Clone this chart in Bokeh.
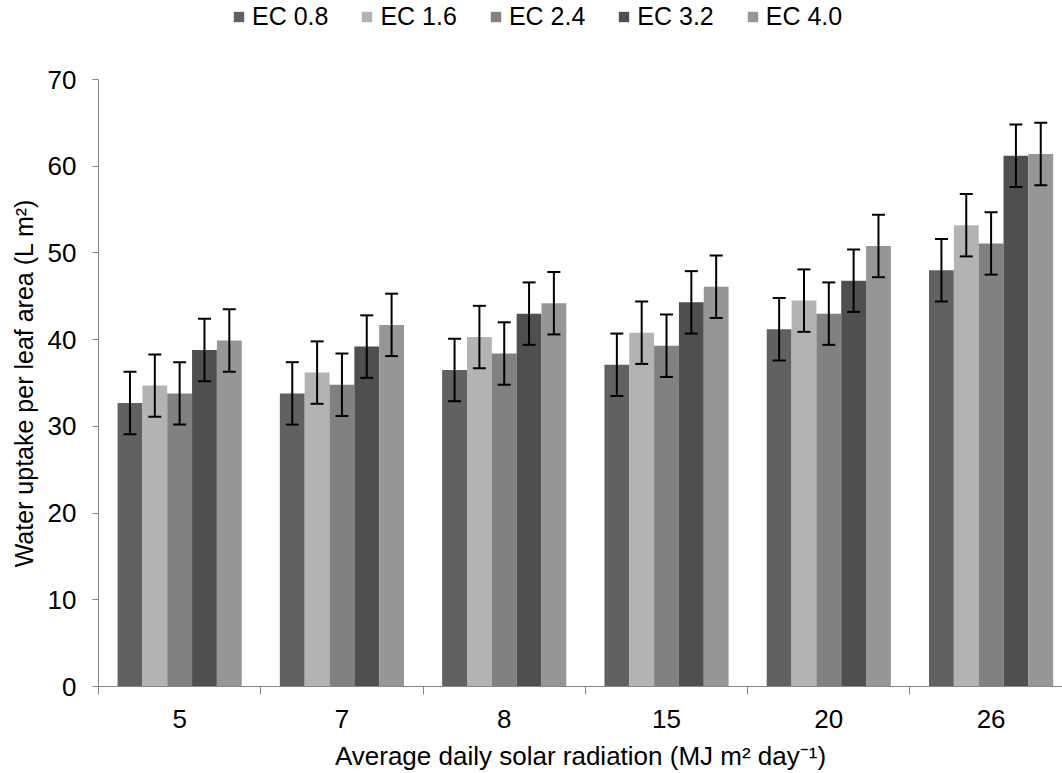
from bokeh.plotting import figure
from bokeh.layouts import column
from bokeh.models import (ColumnDataSource, Range1d, FixedTicker, Whisker, TeeHead,
                          Legend, LegendItem)
from bokeh.embed import file_html
from bokeh.resources import INLINE

# ---- data ----
radiation = ["5", "7", "8", "15", "20", "26"]
series = ["EC 0.8", "EC 1.6", "EC 2.4", "EC 3.2", "EC 4.0"]
ec08 = [32.7, 33.8, 36.5, 37.1, 41.2, 48.0]
ec16 = [34.7, 36.2, 40.3, 40.8, 44.5, 53.2]
ec24 = [33.8, 34.8, 38.4, 39.3, 43.0, 51.1]
ec32 = [38.8, 39.2, 43.0, 44.3, 46.8, 61.2]
ec40 = [39.9, 41.7, 44.2, 46.1, 50.8, 61.4]
err08 = [3.6, 3.6, 3.6, 3.6, 3.6, 3.6]
err16 = [3.6, 3.6, 3.6, 3.6, 3.6, 3.6]
err24 = [3.6, 3.6, 3.6, 3.6, 3.6, 3.6]
err32 = [3.6, 3.6, 3.6, 3.6, 3.6, 3.6]
err40 = [3.6, 3.6, 3.6, 3.6, 3.6, 3.6]
y_ticks = [0, 10, 20, 30, 40, 50, 60, 70]

values = [ec08, ec16, ec24, ec32, ec40]
errors = [err08, err16, err24, err32, err40]
colors = ["#616161", "#b3b3b3", "#818181", "#4f4f4f", "#969696"]

FONT = "Liberation Sans"
bar_w = 0.153
LEG_H = 40

p = figure(width=1062, height=773 - LEG_H, output_backend="svg", toolbar_location=None,
           x_range=Range1d(0, 5.94), y_range=Range1d(0, 70),
           min_border_left=98, min_border_right=0, min_border_top=79 - LEG_H,
           min_border_bottom=87)
p.outline_line_color = None
p.xgrid.visible = False
p.ygrid.visible = False
p.background_fill_color = "white"
p.border_fill_color = "white"

n = len(series)
for j, (vals, errs, col) in enumerate(zip(values, errors, colors)):
    xs = [i + 0.5 + (j - (n - 1) / 2) * bar_w for i in range(len(radiation))]
    src = ColumnDataSource(dict(x=xs, top=vals,
                                upper=[v + e for v, e in zip(vals, errs)],
                                lower=[v - e for v, e in zip(vals, errs)]))
    p.vbar(x="x", top="top", width=bar_w, bottom=0, source=src,
           fill_color=col, line_color=None)
    w = Whisker(base="x", upper="upper", lower="lower", source=src, level="overlay",
                line_color="black", line_width=2,
                upper_head=TeeHead(size=13, line_color="black", line_width=2),
                lower_head=TeeHead(size=13, line_color="black", line_width=2))
    p.add_layout(w)

# x axis: labels at category centres, tick marks at category boundaries
centers = [i + 0.5 for i in range(len(radiation))]
bounds = [float(i) for i in range(len(radiation) + 1)]
p.xaxis.ticker = FixedTicker(ticks=centers, minor_ticks=bounds)
p.xaxis.major_label_overrides = {c: lab for c, lab in zip(centers, radiation)}
p.xaxis.major_tick_line_color = None
p.xaxis.minor_tick_in = 0
p.xaxis.minor_tick_out = 8
p.xaxis.minor_tick_line_color = "#868686"
p.xaxis.axis_line_color = "#868686"
p.xaxis.major_label_standoff = 15
p.xaxis.axis_label = "Average daily solar radiation (MJ m\u00b2 day\u207b\u00b9)"

p.yaxis.ticker = FixedTicker(ticks=y_ticks)
p.yaxis.minor_tick_line_color = None
p.yaxis.major_tick_in = 0
p.yaxis.major_tick_out = 6
p.yaxis.major_tick_line_color = "#868686"
p.yaxis.axis_line_color = "#868686"
p.yaxis.major_label_standoff = 16
p.yaxis.axis_label = "Water uptake per leaf area (L m\u00b2)"

for ax in (p.xaxis, p.yaxis):
    ax.major_label_text_font = FONT
    ax.major_label_text_font_size = "26px"
    ax.major_label_text_color = "#000000"
    ax.axis_label_text_font = FONT
    ax.axis_label_text_font_style = "normal"
    ax.axis_label_text_color = "#000000"
    ax.axis_line_width = 1
p.xaxis.axis_label_text_font_size = "26px"
p.yaxis.axis_label_text_font_size = "25px"
p.xaxis.axis_label_standoff = 10
p.yaxis.axis_label_standoff = 7

# ---- legend strip on top (proxy glyphs lie outside its visible range) ----
lf = figure(width=1062, height=LEG_H, output_backend="svg", toolbar_location=None,
            x_axis_type=None, y_axis_type=None,
            x_range=Range1d(0, 1), y_range=Range1d(0, 1),
            min_border_left=98, min_border_right=0, min_border_top=0, min_border_bottom=0)
lf.outline_line_color = None
lf.xgrid.visible = False
lf.ygrid.visible = False
leg_renderers = [lf.vbar(x=[-10], top=[-5], bottom=-6, width=0.1,
                         fill_color=c, line_color=None)
                 for c in colors]
legend = Legend(items=[LegendItem(label=s, renderers=[r]) for s, r in zip(series, leg_renderers)],
                orientation="horizontal", location=(134, 9),
                label_text_font=FONT, label_text_font_size="25px",
                label_text_color="#000000",
                glyph_width=13, glyph_height=13, label_standoff=7,
                spacing=32, padding=0, margin=0,
                border_line_color=None, background_fill_alpha=0)
lf.add_layout(legend, "center")

layout = column(lf, p, spacing=0)
open("out.html", "w").write(file_html(layout, INLINE))
